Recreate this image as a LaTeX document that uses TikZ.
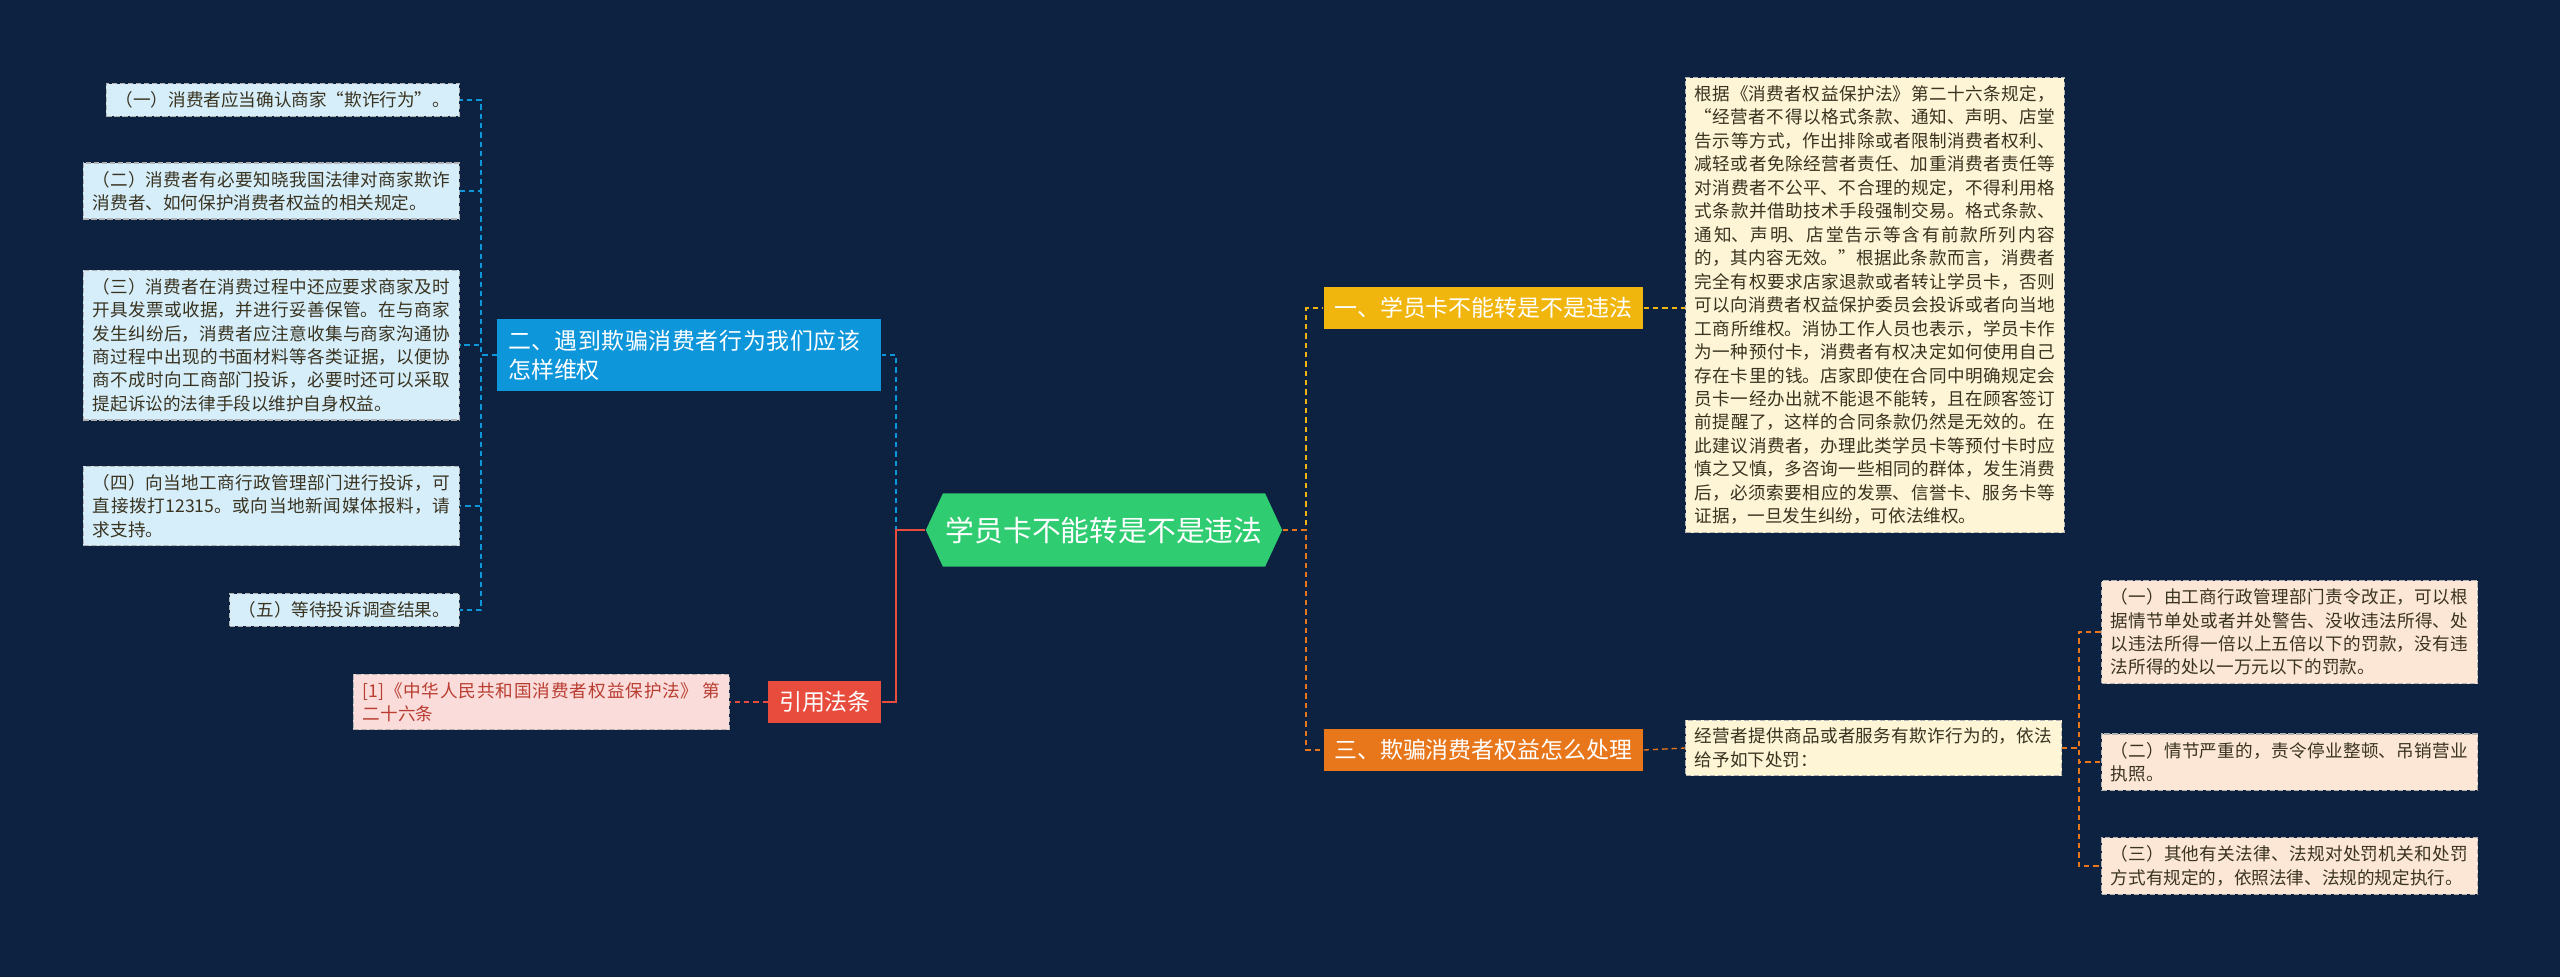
\documentclass[tikz,border=0pt]{standalone}
\usepackage{fontspec}
\setmainfont{Noto Sans CJK SC}
\usetikzlibrary{shapes.symbols}
\XeTeXlinebreaklocale "zh"
\XeTeXlinebreakskip=0pt plus 1pt
\definecolor{bgc}{HTML}{0D2240}
\definecolor{cgreen}{HTML}{2FCC71}
\definecolor{cyellow}{HTML}{F1B60E}
\definecolor{corange}{HTML}{E8771C}
\definecolor{cblue}{HTML}{0E96DB}
\definecolor{cred}{HTML}{E74C3C}
\definecolor{lblue}{HTML}{D5EEFA}
\definecolor{lbeige}{HTML}{FDF5D6}
\definecolor{lpeach}{HTML}{FCE7D6}
\definecolor{lpink}{HTML}{FADCDB}
\definecolor{txt}{HTML}{3A3320}
\tikzset{
  leaf/.style={draw=gray!60, dashed, dash pattern=on 2pt off 1pt, text=txt,
    font=\fontsize{6.6}{8.8}\selectfont, inner xsep=3.5pt, inner ysep=3pt, align=justify},
  branch/.style={text=white, font=\fontsize{8.6}{11}\selectfont, inner xsep=4pt, inner ysep=4pt},
  link/.style={dashed, dash pattern=on 2pt off 1.5pt, line width=0.5pt}
}
\begin{document}
\begin{tikzpicture}[x=0.375pt,y=-0.375pt]
\fill[bgc] (0,0) rectangle (2560,977);
\useasboundingbox (0,0) rectangle (2560,977);
% center
\node[signal, signal to=east and west, signal pointer angle=130, fill=cgreen, text=white,
  font=\fontsize{10.8}{13}\selectfont, minimum height=27.5pt, inner xsep=1pt] (c) at (1104,530) {学员卡不能转是不是违法};
% right branches
\node[branch, fill=cyellow, anchor=west, text=white] (r1) at (1323,308) {一、学员卡不能转是不是违法};
\node[branch, fill=corange, anchor=west] (r3) at (1323,750) {三、欺骗消费者权益怎么处理};
\node[leaf, fill=lbeige, anchor=north west, text width=135pt] (t1) at (1685,77)
 {根据《消费者权益保护法》第二十六条规定，“经营者不得以格式条款、通知、声明、店堂告示等方式，作出排除或者限制消费者权利、减轻或者免除经营者责任、加重消费者责任等对消费者不公平、不合理的规定，不得利用格式条款并借助技术手段强制交易。格式条款、通知、声明、店堂告示等含有前款所列内容的，其内容无效。”根据此条款而言，消费者完全有权要求店家退款或者转让学员卡，否则可以向消费者权益保护委员会投诉或者向当地工商所维权。消协工作人员也表示，学员卡作为一种预付卡，消费者有权决定如何使用自己存在卡里的钱。店家即使在合同中明确规定会员卡一经办出就不能退不能转，且在顾客签订前提醒了，这样的合同条款仍然是无效的。在此建议消费者，办理此类学员卡等预付卡时应慎之又慎，多咨询一些相同的群体，发生消费后，必须索要相应的发票、信誉卡、服务卡等证据，一旦发生纠纷，可依法维权。};
\node[leaf, fill=lbeige, anchor=west, text width=134pt] (t3) at (1685,748)
 {经营者提供商品或者服务有欺诈行为的，依法给予如下处罚：};
\node[leaf, fill=lpeach, anchor=west, text width=134pt] (p1) at (2101,632)
 {（一）由工商行政管理部门责令改正，可以根据情节单处或者并处警告、没收违法所得、处以违法所得一倍以上五倍以下的罚款，没有违法所得的处以一万元以下的罚款。};
\node[leaf, fill=lpeach, anchor=west, text width=134pt] (p2) at (2101,762)
 {（二）情节严重的，责令停业整顿、吊销营业执照。};
\node[leaf, fill=lpeach, anchor=west, text width=134pt] (p3) at (2101,866)
 {（三）其他有关法律、法规对处罚机关和处罚方式有规定的，依照法律、法规的规定执行。};
% left branches
\node[branch, fill=cblue, anchor=east, text width=136pt, align=left] (b2) at (882,355)
 {二、遇到欺骗消费者行为我们应该怎样维权};
\node[branch, fill=cred, anchor=east] (b4) at (882,702) {引用法条};
\node[leaf, fill=lblue, anchor=east] (l1) at (460,100) {（一）消费者应当确认商家“欺诈行为”。};
\node[leaf, fill=lblue, anchor=east, text width=134pt] (l2) at (460,191)
 {（二）消费者有必要知晓我国法律对商家欺诈消费者、如何保护消费者权益的相关规定。};
\node[leaf, fill=lblue, anchor=east, text width=134pt] (l3) at (460,345)
 {（三）消费者在消费过程中还应要求商家及时开具发票或收据，并进行妥善保管。在与商家发生纠纷后，消费者应注意收集与商家沟通协商过程中出现的书面材料等各类证据，以便协商不成时向工商部门投诉，必要时还可以采取提起诉讼的法律手段以维护自身权益。};
\node[leaf, fill=lblue, anchor=east, text width=134pt] (l4) at (460,506)
 {（四）向当地工商行政管理部门进行投诉，可直接拨打12315。或向当地新闻媒体报料，请求支持。};
\node[leaf, fill=lblue, anchor=east] (l5) at (460,610) {（五）等待投诉调查结果。};
\node[leaf, fill=lpink, anchor=east, text width=134pt, text=cred!80!black] (ref) at (730,702)
 {[1]《中华人民共和国消费者权益保护法》 第二十六条};
% connectors
\draw[link, cyellow] (c.east) -- (1306,530) |- (r1.west);
\draw[link, corange] (c.east) -- (1306,530) |- (r3.west);
\draw[link, cyellow] (r1.east) -- (t1.west |- r1.east);
\draw[link, corange] (r3.east) -- (t3.west);
\foreach \p in {p1,p2,p3}
  \draw[link, corange] (t3.east) -- ++(17,0) |- (\p.west);
\draw[link, cblue] (c.west) -- (896,530) |- (b2.east);
\draw[cred, line width=0.5pt] (c.west) -- (896,530) |- (b4.east);
\foreach \l in {l1,l2,l3,l4,l5}
  \draw[link, cblue] (b2.west) -- ++(-16,0) |- (\l.east);
\draw[link, cred] (b4.west) -- (ref.east);
\end{tikzpicture}
\end{document}
